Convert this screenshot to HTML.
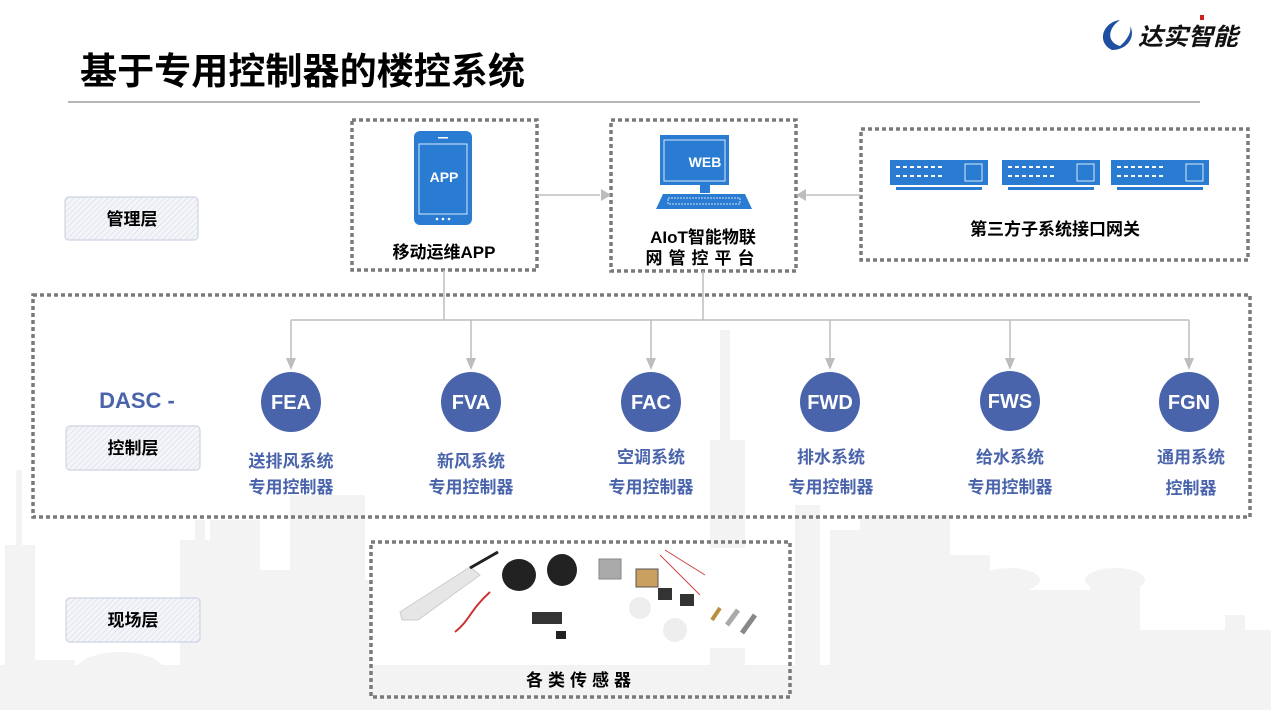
<!DOCTYPE html>
<html><head><meta charset="utf-8"><style>
html,body{margin:0;padding:0;background:#fff}
body{width:1271px;height:710px;position:relative;overflow:hidden;font-family:"Liberation Sans","Noto Sans CJK SC",sans-serif}
svg{position:absolute;left:0;top:0}
text{font-family:"Liberation Sans","Noto Sans CJK SC",sans-serif;font-weight:bold}
</style></head><body>
<svg width="1271" height="710" viewBox="0 0 1271 710">
<defs>
<pattern id="hatch" width="4" height="4" patternUnits="userSpaceOnUse" patternTransform="rotate(45)">
<rect width="4" height="4" fill="#f4f5f9"/><line x1="0" y1="0" x2="0" y2="4" stroke="#d8dbe6" stroke-width="1.2"/></pattern>
</defs>
<!-- skyline -->
<g fill="#f3f3f3">
<rect x="0" y="665" width="1271" height="45"/>
<rect x="5" y="545" width="30" height="125"/><rect x="16" y="470" width="6" height="80"/>
<rect x="35" y="660" width="40" height="10"/>
<ellipse cx="120" cy="672" rx="45" ry="20"/>
<rect x="180" y="540" width="70" height="130"/><rect x="195" y="520" width="10" height="25"/>
<rect x="210" y="520" width="50" height="150"/>
<rect x="260" y="570" width="100" height="100"/>
<rect x="290" y="495" width="75" height="175"/>
<rect x="340" y="580" width="30" height="90"/>
<rect x="720" y="330" width="10" height="140"/><rect x="710" y="440" width="35" height="230"/>
<rect x="795" y="505" width="25" height="165"/>
<rect x="830" y="530" width="90" height="140"/>
<rect x="860" y="515" width="90" height="155"/>
<rect x="910" y="555" width="80" height="115"/>
<rect x="990" y="575" width="40" height="95"/><ellipse cx="1010" cy="580" rx="30" ry="12"/>
<rect x="1030" y="590" width="60" height="80"/>
<rect x="1090" y="575" width="50" height="95"/><ellipse cx="1115" cy="580" rx="30" ry="12"/>
<rect x="1140" y="630" width="131" height="40"/>
<rect x="1225" y="615" width="20" height="55"/>
</g>
<!-- title -->
<text x="80" y="84" font-size="37" fill="#000" textLength="445" lengthAdjust="spacingAndGlyphs">基于专用控制器的楼控系统</text>
<line x1="68" y1="102" x2="1200" y2="102" stroke="#8a8a8a" stroke-width="1.2"/>
<!-- logo -->
<rect x="1200" y="15" width="4" height="5" fill="#d02020"/>
<path d="M1112 50 C1096 42 1103 22 1120 20 C1108 28 1106 42 1120 46 C1127 40 1132 32 1130 26 C1136 36 1128 50 1112 50Z" fill="#1e4fa0"/>
<text x="1138" y="45" font-size="24" fill="#111" font-style="italic" textLength="100" lengthAdjust="spacingAndGlyphs">达实智能</text>
<!-- layer labels -->
<g stroke="#cfd3e3" stroke-width="1.2" fill="url(#hatch)">
<rect x="65" y="197" width="133" height="43" rx="4"/>
<rect x="66" y="426" width="134" height="44" rx="4"/>
<rect x="66" y="598" width="134" height="44" rx="4"/>
</g>
<g font-size="17" fill="#000" text-anchor="middle">
<text x="132" y="225">管理层</text>
<text x="133" y="454">控制层</text>
<text x="133" y="626">现场层</text>
</g>
<text x="137" y="408" font-size="22" fill="#4a64ac" text-anchor="middle">DASC -</text>
<!-- dashed boxes -->
<g fill="none" stroke="#7a7a7a" stroke-width="3.5" stroke-dasharray="4,3">
<rect x="352" y="120" width="185" height="150"/>
<rect x="611" y="120" width="185" height="151"/>
<rect x="861" y="129" width="387" height="131"/>
<rect x="33" y="295" width="1217" height="222"/>
<rect x="371" y="542" width="419" height="155"/>
</g>
<!-- connectors -->
<g stroke="#bdbdbd" stroke-width="1.5" fill="none">
<path d="M537 195 H600"/>
<path d="M861 195 H806"/>
<path d="M444 270 V320 M703 271 V320 M291 320 H1189"/>
<path d="M291 320 V358 M471 320 V358 M651 320 V358 M830 320 V358 M1010 320 V358 M1189 320 V358"/>
</g>
<g fill="#bdbdbd">
<polygon points="601,189 611,195 601,201"/>
<polygon points="806,189 796,195 806,201"/>
<polygon points="286,358 296,358 291,370"/>
<polygon points="466,358 476,358 471,370"/>
<polygon points="646,358 656,358 651,370"/>
<polygon points="825,358 835,358 830,370"/>
<polygon points="1005,358 1015,358 1010,370"/>
<polygon points="1184,358 1194,358 1189,370"/>
</g>
<!-- phone -->
<rect x="414" y="131" width="58" height="94" rx="6" fill="#2a7cd3"/>
<rect x="419" y="144" width="48" height="70" fill="none" stroke="#d8e8f8" stroke-width="1"/>
<rect x="438" y="137" width="10" height="1.5" fill="#fff"/>
<circle cx="437" cy="219" r="1.3" fill="#fff"/><circle cx="443" cy="219" r="1.3" fill="#fff"/><circle cx="449" cy="219" r="1.3" fill="#fff"/>
<text x="444" y="182" font-size="14" fill="#fff" text-anchor="middle">APP</text>
<text x="444" y="258" font-size="17" fill="#000" text-anchor="middle">移动运维APP</text>
<!-- monitor -->
<rect x="660" y="135" width="69" height="50" fill="#2a7cd3"/>
<rect x="664" y="140" width="61" height="41" fill="none" stroke="#d8e8f8" stroke-width="1"/>
<text x="705" y="167" font-size="14" fill="#fff" text-anchor="middle">WEB</text>
<rect x="700" y="185" width="10" height="8" fill="#2a7cd3"/>
<polygon points="663,194 745,194 752,209 656,209" fill="#2a7cd3"/>
<rect x="668" y="198" width="72" height="6" fill="none" stroke="#cfe0f5" stroke-width="1" stroke-dasharray="2,1"/>
<text x="703" y="243" font-size="17" fill="#000" text-anchor="middle">AIoT智能物联</text>
<text x="703" y="264" font-size="17" fill="#000" text-anchor="middle" letter-spacing="6">网管控平台</text>
<!-- switches -->
<g fill="#2a7cd3">
<rect x="890" y="160" width="98" height="25"/><rect x="896" y="187" width="86" height="3"/>
<rect x="1002" y="160" width="98" height="25"/><rect x="1008" y="187" width="86" height="3"/>
<rect x="1111" y="160" width="98" height="25"/><rect x="1117" y="187" width="86" height="3"/>
</g>
<g fill="none" stroke="#fff" stroke-width="2" stroke-dasharray="4,3">
<path d="M896 167 H945 M896 176 H945 M1008 167 H1057 M1008 176 H1057 M1117 167 H1166 M1117 176 H1166"/>
</g>
<g fill="none" stroke="#d8e8f8" stroke-width="1">
<rect x="965" y="164" width="17" height="17"/><rect x="1077" y="164" width="17" height="17"/><rect x="1186" y="164" width="17" height="17"/>
</g>
<text x="1055" y="235" font-size="17" fill="#000" text-anchor="middle">第三方子系统接口网关</text>
<!-- circles -->
<g fill="#4a64ac">
<circle cx="291" cy="402" r="30"/><circle cx="471" cy="402" r="30"/><circle cx="651" cy="402" r="30"/>
<circle cx="830" cy="402" r="30"/><circle cx="1010" cy="401" r="30"/><circle cx="1189" cy="402" r="30"/>
</g>
<g font-size="20" fill="#fff" text-anchor="middle">
<text x="291" y="409">FEA</text><text x="471" y="409">FVA</text><text x="651" y="409">FAC</text>
<text x="830" y="409">FWD</text><text x="1010" y="408">FWS</text><text x="1189" y="409">FGN</text>
</g>
<g font-size="17" fill="#4a64ac" text-anchor="middle">
<text x="291" y="467">送排风系统</text><text x="291" y="493">专用控制器</text>
<text x="471" y="467">新风系统</text><text x="471" y="493">专用控制器</text>
<text x="651" y="463">空调系统</text><text x="651" y="493">专用控制器</text>
<text x="831" y="463">排水系统</text><text x="831" y="493">专用控制器</text>
<text x="1010" y="463">给水系统</text><text x="1010" y="493">专用控制器</text>
<text x="1191" y="463">通用系统</text><text x="1191" y="494">控制器</text>
</g>
<!-- sensors -->
<rect x="395" y="548" width="365" height="100" fill="#fff"/>
<polygon points="400,612 470,567 480,575 418,620 402,620" fill="#e6e6e6" stroke="#ccc"/>
<line x1="470" y1="568" x2="498" y2="552" stroke="#222" stroke-width="3"/>
<ellipse cx="519" cy="575" rx="17" ry="16" fill="#222"/>
<ellipse cx="562" cy="570" rx="15" ry="16" fill="#222"/>
<path d="M490 592 C470 610 470 620 455 632" stroke="#c33" stroke-width="2" fill="none"/>
<rect x="599" y="559" width="22" height="20" fill="#aaa" stroke="#888"/>
<rect x="636" y="569" width="22" height="18" fill="#c9a060" stroke="#555"/>
<rect x="532" y="612" width="30" height="12" fill="#333"/>
<rect x="556" y="631" width="10" height="8" fill="#222"/>
<circle cx="640" cy="608" r="11" fill="#eee"/><circle cx="675" cy="630" r="12" fill="#eee"/>
<rect x="680" y="594" width="14" height="12" fill="#333"/><rect x="658" y="588" width="14" height="12" fill="#333"/>
<line x1="660" y1="555" x2="700" y2="595" stroke="#c44" stroke-width="1"/>
<line x1="665" y1="550" x2="705" y2="575" stroke="#c44" stroke-width="1"/>
<line x1="712" y1="620" x2="720" y2="608" stroke="#b89040" stroke-width="4"/>
<line x1="727" y1="625" x2="738" y2="610" stroke="#aaa" stroke-width="5"/>
<line x1="742" y1="633" x2="755" y2="615" stroke="#888" stroke-width="5"/>
<text x="581" y="686" font-size="17" fill="#000" text-anchor="middle" letter-spacing="5">各类传感器</text>
</svg>
</body></html>
